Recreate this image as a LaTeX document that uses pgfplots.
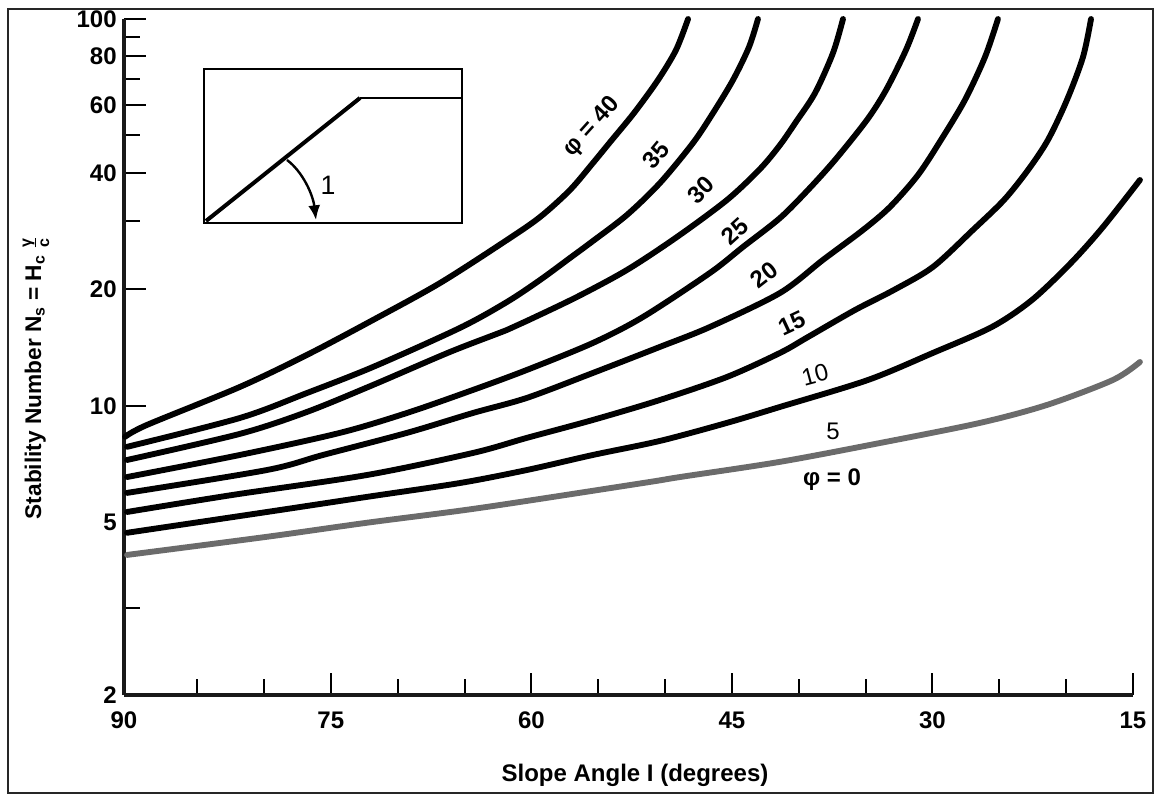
\documentclass[border=0pt]{standalone}
\usepackage{pgfplots}
\pgfplotsset{compat=1.18}
\usepackage{fontspec}
\setmainfont{Liberation Sans}
\usetikzlibrary{arrows.meta}
\begin{document}
\begin{tikzpicture}[x=0.75pt,y=-0.75pt,font=\bfseries]
\path[use as bounding box] (0,0) rectangle (1157,796);
\draw[line width=2.2pt,black!85] (8,9) rectangle (1153,793);
\coordinate (O) at (124,695);
\begin{axis}[
  at={(O)},anchor=south west,
  scale only axis,width=756.75pt,height=507pt,
  x dir=reverse,xmin=15,xmax=90.47,
  ymode=log,ymin=1.79,ymax=100,log basis y=10,
  axis x line=bottom,axis y line=left,
  x axis line style={-,line width=3.6pt,black!90},
  y axis line style={-,line width=2.4pt,black!90},
  tick align=inside,
  xtick={75,60,45,30,15},xticklabels={75,60,45,30,15},
  minor xtick={85,80,70,65,55,50,40,35,25,20},
  extra x ticks={90.47},extra x tick labels={90},
  extra x tick style={major tick length=0pt},
  ytick={100,80,60,40,20,10},yticklabels={100,80,60,40,20,10},
  minor ytick={90,70,50,30,3},
  extra y ticks={5,1.79},extra y tick labels={5,2},
  extra y tick style={major tick length=0pt},
  major tick length=16.5pt,minor tick length=12pt,
  tick style={line width=1.5pt,black},
  /pgf/number format/assume math mode=true,
  tick label style={font=\fontsize{18}{18}\selectfont\bfseries},
  xticklabel style={yshift=-9pt},
  yticklabel style={xshift=-2pt},
  clip=false,
  cycle list={{black}},
  every axis plot/.append style={line width=4.4pt,smooth,tension=0.5,no markers,line cap=round},
]
\addplot coordinates {(90.39,8.32)(88.75,8.93)(81.79,11.20)(76.78,13.55)(71.84,16.68)(66.83,20.78)(61.82,26.85)(59.35,30.78)(57.11,36.15)(55.39,42.46)(54.04,48.40)(52.32,57.17)(50.53,69.55)(49.18,83.16)(48.28,100)};
\addplot coordinates {(90.24,7.84)(81.79,9.31)(76.78,10.80)(71.84,12.61)(65.34,15.91)(61.82,18.57)(59.35,21.16)(57.11,24.12)(55.39,26.69)(52.85,31.16)(50.38,37.69)(47.91,47.82)(46.41,57.17)(44.92,69.55)(43.72,84.65)(43.05,100)};
\addplot coordinates {(90.24,7.25)(81.79,8.47)(76.78,9.65)(71.84,11.33)(66.08,13.79)(61.82,15.72)(60.33,16.59)(56.59,19.13)(52.85,22.46)(49.11,27.33)(45.37,34.06)(42.90,40.96)(41.40,47.25)(40.21,54.19)(38.78,64.39)(37.44,81.68)(36.69,100)};
\addplot coordinates {(90.24,6.55)(81.79,7.47)(74.31,8.52)(69.30,9.59)(64.36,11.00)(60.33,12.39)(55.39,14.55)(51.65,16.98)(46.64,22.07)(44.17,25.76)(41.40,30.60)(39.31,36.15)(37.29,43.21)(34.90,54.83)(33.47,65.54)(31.98,83.16)(31.08,100)};
\addplot coordinates {(90.24,5.96)(79.77,6.83)(75.58,7.47)(69.30,8.52)(64.36,9.59)(60.33,10.49)(55.39,12.17)(50.38,14.21)(46.64,16.00)(41.40,19.59)(38.19,23.84)(35.19,28.50)(33.18,32.67)(31.08,39.53)(29.36,48.69)(27.57,61.76)(26.07,79.76)(25.10,100)};
\addplot coordinates {(90.24,5.32)(82.31,5.89)(72.29,6.63)(64.36,7.56)(60.33,8.27)(55.39,9.20)(50.38,10.36)(45.37,11.88)(41.40,13.71)(39.31,15.07)(35.79,17.70)(32.88,19.94)(29.96,22.87)(26.97,28.50)(24.65,34.06)(22.85,40.72)(21.36,48.69)(19.94,61.76)(18.74,79.76)(18.14,100)};
\addplot coordinates {(90.24,4.70)(79.77,5.32)(72.29,5.82)(65.34,6.32)(60.33,6.83)(55.39,7.47)(50.38,8.12)(45.37,9.04)(41.40,9.94)(34.82,11.67)(29.96,13.71)(25.55,16.00)(22.55,18.79)(19.64,23.42)(17.24,29.01)(14.48,38.37)};
\addplot[black!58] coordinates {(90.24,4.12)(79.77,4.59)(72.29,4.99)(63.84,5.45)(51.65,6.32)(48.88,6.55)(41.40,7.17)(33.92,8.02)(26.44,9.04)(21.43,10.06)(16.50,11.67)(14.48,12.99)};
\end{axis}
% inset
\draw[line width=2pt,black] (204,69) rectangle (462,223);
\draw[line width=3pt,black,line join=round] (206,221)--(360,98);
\draw[line width=2.2pt,black] (360,98)--(462,98);
\draw[line width=1.8pt,black,-{Latex[length=11pt,width=9pt]}] (287,160) .. controls (303,172) and (313,195) .. (316,220);
\node[font=\fontsize{20}{20}\selectfont] at (328,185) {1};
% curve labels
\node[rotate=48,font=\fontsize{18}{18}\selectfont\bfseries] at (592,127) {φ = 40};
\node[rotate=50,font=\fontsize{18}{18}\selectfont\bfseries] at (656,155) {35};
\node[rotate=45,font=\fontsize{18}{18}\selectfont\bfseries] at (701,190) {30};
\node[rotate=42,font=\fontsize{18}{18}\selectfont\bfseries] at (735,231) {25};
\node[rotate=38,font=\fontsize{18}{18}\selectfont\bfseries] at (764,275) {20};
\node[rotate=25,font=\fontsize{18}{18}\selectfont\bfseries] at (792,323) {15};
\node[rotate=15,font=\fontsize{18}{18}\selectfont] at (815,375) {10};
\node[font=\fontsize{18}{18}\selectfont] at (833,431) {5};
\node[font=\fontsize{18}{18}\selectfont\bfseries] at (832,480) {φ = 0};
% axis labels
\node[font=\fontsize{18}{18}\selectfont\bfseries] at (635,775) {Slope Angle I (degrees)};
\node[rotate=90,font=\fontsize{17}{17}\selectfont\bfseries] at (36,378) {Stability Number N\textsubscript{s} = H\textsubscript{c} $\frac{\mbox{\fontsize{12}{12}\selectfont\bfseries γ}}{\mbox{\fontsize{12}{12}\selectfont\bfseries c}}$};
\end{tikzpicture}
\end{document}
